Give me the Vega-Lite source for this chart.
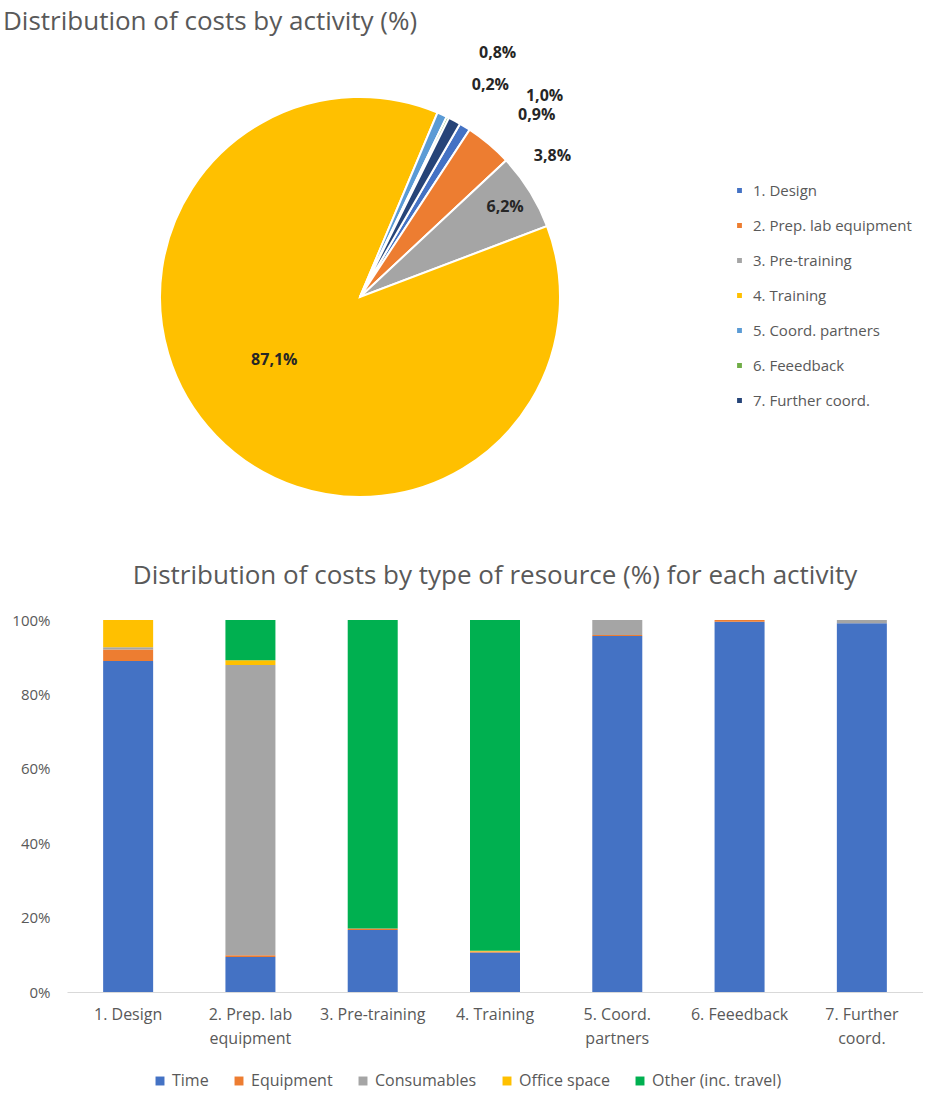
{
  "$schema": "https://vega.github.io/schema/vega-lite/v6.json",
  "padding": {"left": 3, "top": 9, "right": 0, "bottom": 20},
  "background": "white",
  "config": {
    "view": {"stroke": null},
    "font": "Open Sans",
    "locale": {"number": {"decimal": ",", "thousands": ".", "grouping": [3], "currency": ["", " €"]}}
  },
  "datasets": {
    "activity": [
      {"activity": "1. Design", "share": 0.009, "ord": 1},
      {"activity": "2. Prep. lab equipment", "share": 0.038, "ord": 2},
      {"activity": "3. Pre-training", "share": 0.062, "ord": 3},
      {"activity": "4. Training", "share": 0.871, "ord": 4},
      {"activity": "5. Coord. partners", "share": 0.008, "ord": 5},
      {"activity": "6. Feeedback", "share": 0.002, "ord": 6},
      {"activity": "7. Further coord.", "share": 0.010, "ord": 7}
    ],
    "resource": [
      {"activity": "1. Design", "resource": "Time", "share": 89.0, "ord": 1},
      {"activity": "1. Design", "resource": "Equipment", "share": 3.1, "ord": 2},
      {"activity": "1. Design", "resource": "Consumables", "share": 0.6, "ord": 3},
      {"activity": "1. Design", "resource": "Office space", "share": 7.3, "ord": 4},
      {"activity": "1. Design", "resource": "Other (inc. travel)", "share": 0.0, "ord": 5},
      {"activity": "2. Prep. lab equipment", "resource": "Time", "share": 9.4, "ord": 1},
      {"activity": "2. Prep. lab equipment", "resource": "Equipment", "share": 0.5, "ord": 2},
      {"activity": "2. Prep. lab equipment", "resource": "Consumables", "share": 78.0, "ord": 3},
      {"activity": "2. Prep. lab equipment", "resource": "Office space", "share": 1.3, "ord": 4},
      {"activity": "2. Prep. lab equipment", "resource": "Other (inc. travel)", "share": 10.8, "ord": 5},
      {"activity": "3. Pre-training", "resource": "Time", "share": 16.7, "ord": 1},
      {"activity": "3. Pre-training", "resource": "Equipment", "share": 0.4, "ord": 2},
      {"activity": "3. Pre-training", "resource": "Consumables", "share": 0.0, "ord": 3},
      {"activity": "3. Pre-training", "resource": "Office space", "share": 0.0, "ord": 4},
      {"activity": "3. Pre-training", "resource": "Other (inc. travel)", "share": 82.9, "ord": 5},
      {"activity": "4. Training", "resource": "Time", "share": 10.6, "ord": 1},
      {"activity": "4. Training", "resource": "Equipment", "share": 0.3, "ord": 2},
      {"activity": "4. Training", "resource": "Consumables", "share": 0.0, "ord": 3},
      {"activity": "4. Training", "resource": "Office space", "share": 0.2, "ord": 4},
      {"activity": "4. Training", "resource": "Other (inc. travel)", "share": 88.9, "ord": 5},
      {"activity": "5. Coord. partners", "resource": "Time", "share": 95.7, "ord": 1},
      {"activity": "5. Coord. partners", "resource": "Equipment", "share": 0.3, "ord": 2},
      {"activity": "5. Coord. partners", "resource": "Consumables", "share": 4.0, "ord": 3},
      {"activity": "5. Coord. partners", "resource": "Office space", "share": 0.0, "ord": 4},
      {"activity": "5. Coord. partners", "resource": "Other (inc. travel)", "share": 0.0, "ord": 5},
      {"activity": "6. Feeedback", "resource": "Time", "share": 99.5, "ord": 1},
      {"activity": "6. Feeedback", "resource": "Equipment", "share": 0.5, "ord": 2},
      {"activity": "6. Feeedback", "resource": "Consumables", "share": 0.0, "ord": 3},
      {"activity": "6. Feeedback", "resource": "Office space", "share": 0.0, "ord": 4},
      {"activity": "6. Feeedback", "resource": "Other (inc. travel)", "share": 0.0, "ord": 5},
      {"activity": "7. Further coord.", "resource": "Time", "share": 99.1, "ord": 1},
      {"activity": "7. Further coord.", "resource": "Equipment", "share": 0.0, "ord": 2},
      {"activity": "7. Further coord.", "resource": "Consumables", "share": 0.9, "ord": 3},
      {"activity": "7. Further coord.", "resource": "Office space", "share": 0.0, "ord": 4},
      {"activity": "7. Further coord.", "resource": "Other (inc. travel)", "share": 0.0, "ord": 5}
    ]
  },
  "spacing": 16,
  "resolve": {"scale": {"color": "independent"}, "legend": {"color": "independent"}},
  "vconcat": [
    {
      "width": 586,
      "height": 500,
      "title": {"text": "Distribution of costs by activity (%)", "anchor": "start", "fontSize": 26, "fontWeight": "normal", "color": "#595959", "offset": 10, "dx": -64},
      "data": {"name": "activity"},
      "encoding": {
        "theta": {"field": "share", "type": "quantitative", "stack": true, "scale": {"range": [0.5236, 6.8068]}},
        "order": {"field": "ord", "type": "quantitative"}
      },
      "layer": [
        {
          "mark": {"type": "arc", "outerRadius": 200, "stroke": "white", "strokeWidth": 2},
          "encoding": {
            "color": {
              "field": "activity", "type": "nominal",
              "scale": {"domain": ["1. Design", "2. Prep. lab equipment", "3. Pre-training", "4. Training", "5. Coord. partners", "6. Feeedback", "7. Further coord."],
                        "range": ["#4472C4", "#ED7D31", "#A5A5A5", "#FFC000", "#5B9BD5", "#70AD47", "#264478"]},
              "legend": {"title": null, "orient": "none", "legendX": 665, "legendY": 136, "symbolType": "square", "symbolSize": 40, "labelFontSize": 15, "labelColor": "#595959", "rowPadding": 19, "labelOffset": 6}
            }
          }
        },
        {
          "mark": {"type": "text", "radius": 108, "dx": -8, "dy": -12, "fontSize": 16, "fontWeight": "bold", "color": "#262626"},
          "encoding": {"text": {"condition": {"test": "datum.activity == '4. Training'", "field": "share", "type": "quantitative", "format": ".1%"}, "value": ""}}
        },
        {
          "mark": {"type": "text", "radius": 171, "fontSize": 16, "fontWeight": "bold", "color": "#262626"},
          "encoding": {"text": {"condition": {"test": "datum.activity == '3. Pre-training'", "field": "share", "type": "quantitative", "format": ".1%"}, "value": ""}}
        },
        {
          "mark": {"type": "text", "radius": 215, "dx": 54, "dy": 24, "fontSize": 16, "fontWeight": "bold", "color": "#262626"},
          "encoding": {"text": {"condition": {"test": "datum.activity == '2. Prep. lab equipment'", "field": "share", "type": "quantitative", "format": ".1%"}, "value": ""}}
        },
        {
          "mark": {"type": "text", "radius": 215, "dx": 64, "dy": 1, "fontSize": 16, "fontWeight": "bold", "color": "#262626"},
          "encoding": {"text": {"condition": {"test": "datum.activity == '1. Design'", "field": "share", "type": "quantitative", "format": ".1%"}, "value": ""}}
        },
        {
          "mark": {"type": "text", "radius": 215, "dx": 83, "dy": -12, "fontSize": 16, "fontWeight": "bold", "color": "#262626"},
          "encoding": {"text": {"condition": {"test": "datum.activity == '7. Further coord.'", "field": "share", "type": "quantitative", "format": ".1%"}, "value": ""}}
        },
        {
          "mark": {"type": "text", "radius": 215, "dx": 36, "dy": -19, "fontSize": 16, "fontWeight": "bold", "color": "#262626"},
          "encoding": {"text": {"condition": {"test": "datum.activity == '6. Feeedback'", "field": "share", "type": "quantitative", "format": ".1%"}, "value": ""}}
        },
        {
          "mark": {"type": "text", "radius": 250, "dx": 35, "dy": -16, "fontSize": 16, "fontWeight": "bold", "color": "#262626"},
          "encoding": {"text": {"condition": {"test": "datum.activity == '5. Coord. partners'", "field": "share", "type": "quantitative", "format": ".1%"}, "value": ""}}
        }
      ]
    },
    {
      "width": 856,
      "height": 372,
      "title": {"text": "Distribution of costs by type of resource (%) for each activity", "anchor": "middle", "fontSize": 26, "fontWeight": "normal", "color": "#595959", "offset": 24},
      "data": {"name": "resource"},
      "mark": {"type": "bar", "width": 50},
      "encoding": {
        "x": {
          "field": "activity", "type": "nominal",
          "sort": ["1. Design", "2. Prep. lab equipment", "3. Pre-training", "4. Training", "5. Coord. partners", "6. Feeedback", "7. Further coord."],
          "axis": {
            "title": null, "labelAngle": 0, "labelFontSize": 16, "labelColor": "#595959", "labelPadding": 14, "ticks": false,
            "domainColor": "#D9D9D9", "labelLineHeight": 24,
            "labelExpr": "datum.value == '2. Prep. lab equipment' ? ['2. Prep. lab', 'equipment'] : datum.value == '5. Coord. partners' ? ['5. Coord.', 'partners'] : datum.value == '7. Further coord.' ? ['7. Further', 'coord.'] : datum.value"
          }
        },
        "y": {
          "field": "share", "type": "quantitative", "stack": "normalize",
          "axis": {"title": null, "format": ".0%", "tickCount": 5, "grid": false, "domain": false, "ticks": false, "labelFontSize": 15, "labelColor": "#595959", "labelPadding": 17}
        },
        "color": {
          "field": "resource", "type": "nominal",
          "scale": {"domain": ["Time", "Equipment", "Consumables", "Office space", "Other (inc. travel)"],
                    "range": ["#4472C4", "#ED7D31", "#A5A5A5", "#FFC000", "#00B050"]},
          "legend": {"title": null, "orient": "none", "legendX": 85, "legendY": 453, "direction": "horizontal", "symbolType": "square", "symbolSize": 80, "labelFontSize": 16, "labelColor": "#595959", "columnPadding": 22, "labelOffset": 4}
        },
        "order": {"field": "ord", "type": "quantitative"}
      }
    }
  ]
}
